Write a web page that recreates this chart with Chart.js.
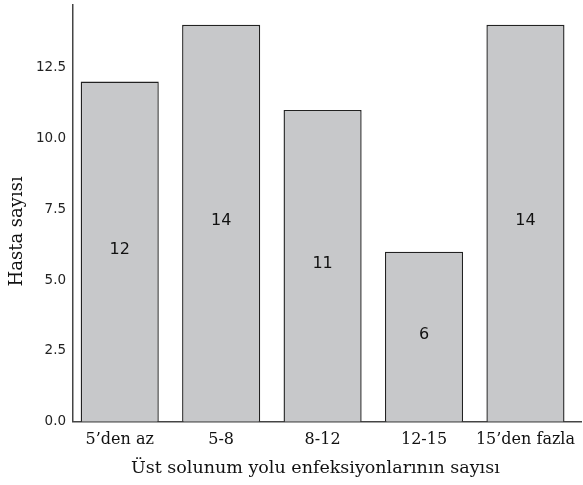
<!DOCTYPE html>
<html>
<head>
<meta charset="utf-8">
<script src="https://cdn.jsdelivr.net/npm/chart.js@4/dist/chart.umd.min.js"></script>
<style>
html,body{margin:0;padding:0;background:#fff;}
#wrap{width:583px;height:485px;position:relative;}
</style>
</head>
<body>
<div id="wrap"><canvas id="c"></canvas></div>
<script>
const categories = ["5’den az", "5-8", "8-12", "12-15", "15’den fazla"];
const patients = [12, 14, 11, 6, 14];
const yTicks = [0, 2.5, 5, 7.5, 10, 12.5];
const xTitle = "Üst solunum yolu enfeksiyonlarının sayısı";
const yTitle = "Hasta sayısı";

const serif = "'DejaVu Serif', serif";
const sans = "'DejaVu Sans', sans-serif";

const valueLabels = {
  id: 'valueLabels',
  afterDatasetsDraw(chart) {
    const ctx = chart.ctx;
    const meta = chart.getDatasetMeta(0);
    ctx.save();
    ctx.fillStyle = '#111';
    ctx.font = "16px " + sans;
    ctx.textAlign = 'center';
    ctx.textBaseline = 'middle';
    meta.data.forEach((bar, i) => {
      ctx.fillText(String(patients[i]), bar.x, (bar.y + bar.base) / 2 - 2);
    });
    ctx.restore();
  }
};

const axisTitles = {
  id: 'axisTitles',
  afterDraw(chart) {
    const ctx = chart.ctx;
    const a = chart.chartArea;
    ctx.save();
    ctx.fillStyle = '#111';
    ctx.textAlign = 'center';
    ctx.textBaseline = 'middle';
    ctx.font = "17.5px " + serif;
    ctx.fillText(xTitle, (a.left + a.right) / 2 - 12, a.bottom + 47);
    ctx.translate(a.left - 56, (a.top + a.bottom) / 2 + 18);
    ctx.rotate(-Math.PI / 2);
    ctx.font = "18px " + serif;
    ctx.fillText(yTitle, 0, 0);
    ctx.restore();
  }
};

new Chart(document.getElementById('c'), {
  type: 'bar',
  data: {
    datasets: [{
      data: patients.map((v, i) => ({x: i, y: v})),
      backgroundColor: '#c7c8ca',
      borderColor: '#222',
      borderWidth: 1.4,
      categoryPercentage: 1,
      barPercentage: 0.77
    }]
  },
  options: {
    responsive: true,
    maintainAspectRatio: false,
    animation: false,
    layout: {padding: {top: 5, right: 0, left: 34, bottom: 28}},
    plugins: {legend: {display: false}, tooltip: {enabled: false}},
    scales: {
      x: {
        type: 'linear',
        offset: false,
        bounds: 'data',
        min: -0.46,
        max: 4.555,
        grid: {display: false, drawTicks: false, offset: false},
        border: {display: true, color: '#444', width: 1.5},
        afterBuildTicks(scale) { scale.ticks = categories.map((c, i) => ({value: i})); },
        ticks: {
          autoSkip: false,
          maxRotation: 0,
          padding: 8,
          color: '#111',
          font: {family: serif, size: 16},
          callback: (v) => categories[v]
        },
        title: {display: false}
      },
      y: {
        min: 0,
        max: 14.7,
        afterBuildTicks(scale) { scale.ticks = yTicks.map(v => ({value: v})); },
        afterFit(scale) { scale.paddingTop = 0; },
        grid: {display: false, drawTicks: true, tickLength: 5, tickColor: '#555', tickWidth: 1.3},
        border: {display: true, color: '#444', width: 1.5},
        ticks: {
          color: '#222',
          padding: 2,
          font: {family: sans, size: 13.5},
          callback: (v) => Number(v).toFixed(1)
        },
        title: {display: false}
      }
    }
  },
  plugins: [valueLabels, axisTitles]
});
</script>
</body>
</html>
